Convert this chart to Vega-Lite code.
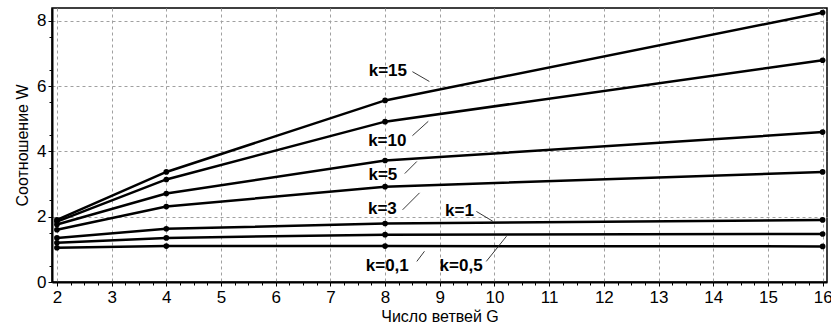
{
  "$schema": "https://vega.github.io/schema/vega-lite/v6.json",
  "width": 775,
  "height": 274,
  "autosize": {"type": "none"},
  "padding": {"left": 52, "top": 8, "right": 4, "bottom": 48},
  "background": "white",
  "config": {
    "font": "Liberation Sans",
    "view": {"stroke": "black", "strokeWidth": 1.5},
    "axis": {
      "labelFont": "Liberation Sans",
      "titleFont": "Liberation Sans",
      "labelColor": "black",
      "titleColor": "black",
      "titleFontWeight": "normal",
      "domainColor": "black",
      "tickColor": "black",
      "gridColor": "#a0a0a0",
      "gridDash": [3, 3],
      "gridWidth": 1
    }
  },
  "datasets": {
    "curves": [
      {"k": "15", "G": 2, "W": 1.9},
      {"k": "15", "G": 4, "W": 3.37},
      {"k": "15", "G": 8, "W": 5.56},
      {"k": "15", "G": 16, "W": 8.25},
      {"k": "10", "G": 2, "W": 1.85},
      {"k": "10", "G": 4, "W": 3.14},
      {"k": "10", "G": 8, "W": 4.91},
      {"k": "10", "G": 16, "W": 6.79},
      {"k": "5", "G": 2, "W": 1.76},
      {"k": "5", "G": 4, "W": 2.71},
      {"k": "5", "G": 8, "W": 3.72},
      {"k": "5", "G": 16, "W": 4.59},
      {"k": "3", "G": 2, "W": 1.6},
      {"k": "3", "G": 4, "W": 2.31},
      {"k": "3", "G": 8, "W": 2.92},
      {"k": "3", "G": 16, "W": 3.37},
      {"k": "1", "G": 2, "W": 1.35},
      {"k": "1", "G": 4, "W": 1.63},
      {"k": "1", "G": 8, "W": 1.79},
      {"k": "1", "G": 16, "W": 1.9},
      {"k": "0.5", "G": 2, "W": 1.2},
      {"k": "0.5", "G": 4, "W": 1.35},
      {"k": "0.5", "G": 8, "W": 1.45},
      {"k": "0.5", "G": 16, "W": 1.47},
      {"k": "0.1", "G": 2, "W": 1.05},
      {"k": "0.1", "G": 4, "W": 1.1},
      {"k": "0.1", "G": 8, "W": 1.1},
      {"k": "0.1", "G": 16, "W": 1.09}
    ],
    "labels": [
      {"text": "k=15", "G": 8.05, "W": 6.45},
      {"text": "k=10", "G": 8.04, "W": 4.31},
      {"text": "k=5", "G": 7.96, "W": 3.29},
      {"text": "k=3", "G": 7.95, "W": 2.24},
      {"text": "k=1", "G": 9.36, "W": 2.18},
      {"text": "k=0,1", "G": 8.04, "W": 0.5},
      {"text": "k=0,5", "G": 9.39, "W": 0.5}
    ],
    "leaders": [
      {"G": 8.5, "W": 6.44, "G2": 8.81, "W2": 6.14},
      {"G": 8.5, "W": 4.48, "G2": 8.79, "W2": 4.92},
      {"G": 8.36, "W": 3.32, "G2": 8.58, "W2": 3.69},
      {"G": 8.32, "W": 2.21, "G2": 8.63, "W2": 2.73},
      {"G": 9.67, "W": 2.16, "G2": 9.97, "W2": 1.86},
      {"G": 8.58, "W": 0.63, "G2": 8.72, "W2": 0.94},
      {"G": 9.85, "W": 0.63, "G2": 10.22, "W2": 1.4}
    ]
  },
  "layer": [
    {
      "layer": [
        {
          "data": {"name": "curves"},
          "mark": {"type": "line", "color": "black", "strokeWidth": 2.5},
          "encoding": {
            "x": {
              "field": "G", "type": "quantitative",
              "scale": {"domain": [1.91, 16.08], "nice": false, "zero": false},
              "axis": {
                "values": [2, 3, 4, 5, 6, 7, 8, 9, 10, 11, 12, 13, 14, 15, 16],
                "title": "Число ветвей G",
                "labelFontSize": 17,
                "titleFontSize": 16,
                "tickSize": 4,
                "labelPadding": 3,
                "titlePadding": 3,
                "domainWidth": 2,
                "labelFlush": false
              }
            },
            "y": {
              "field": "W", "type": "quantitative",
              "scale": {"domain": [0, 8.39], "nice": false},
              "axis": {
                "values": [0, 1, 2, 3, 4, 5, 6, 7, 8],
                "title": "Соотношение W",
                "labelFontSize": 17,
                "titleFontSize": 16,
                "tickSize": 4,
                "labelPadding": 2,
                "titlePadding": 6,
                "domainWidth": 2,
                "labelFlush": false
              }
            },
            "detail": {"field": "k"}
          }
        },
        {
          "data": {"name": "curves"},
          "mark": {"type": "point", "filled": true, "color": "black", "size": 32, "opacity": 1},
          "encoding": {
            "x": {"field": "G", "type": "quantitative"},
            "y": {"field": "W", "type": "quantitative"}
          }
        },
        {
          "data": {"name": "leaders"},
          "mark": {"type": "rule", "color": "#222", "strokeWidth": 0.9},
          "encoding": {
            "x": {"field": "G", "type": "quantitative"},
            "y": {"field": "W", "type": "quantitative"},
            "x2": {"field": "G2"},
            "y2": {"field": "W2"}
          }
        },
        {
          "data": {"name": "labels"},
          "mark": {"type": "text", "font": "Liberation Sans", "fontSize": 17, "fontWeight": "bold", "color": "black", "align": "center", "baseline": "middle"},
          "encoding": {
            "x": {"field": "G", "type": "quantitative"},
            "y": {"field": "W", "type": "quantitative"},
            "text": {"field": "text"}
          }
        }
      ]
    },
    {
      "data": {"name": "curves"},
      "mark": {"type": "point", "opacity": 0},
      "encoding": {
        "x": {
          "field": "G", "type": "quantitative",
          "scale": {"domain": [1.91, 16.08], "nice": false, "zero": false},
          "axis": {
            "orient": "bottom",
            "values": [2.25, 2.5, 2.75, 3.25, 3.5, 3.75, 4.25, 4.5, 4.75, 5.25, 5.5, 5.75, 6.25, 6.5, 6.75, 7.25, 7.5, 7.75, 8.25, 8.5, 8.75, 9.25, 9.5, 9.75, 10.25, 10.5, 10.75, 11.25, 11.5, 11.75, 12.25, 12.5, 12.75, 13.25, 13.5, 13.75, 14.25, 14.5, 14.75, 15.25, 15.5, 15.75],
            "labels": false,
            "grid": false,
            "domain": false,
            "title": null,
            "tickSize": 3
          }
        },
        "y": {
          "field": "W", "type": "quantitative",
          "scale": {"domain": [0, 8.39], "nice": false},
          "axis": {
            "orient": "left",
            "values": [0.5, 1.5, 2.5, 3.5, 4.5, 5.5, 6.5, 7.5],
            "labels": false,
            "grid": false,
            "domain": false,
            "title": null,
            "tickSize": 3
          }
        }
      }
    }
  ],
  "resolve": {"scale": {"x": "independent", "y": "independent"}, "axis": {"x": "independent", "y": "independent"}}
}
